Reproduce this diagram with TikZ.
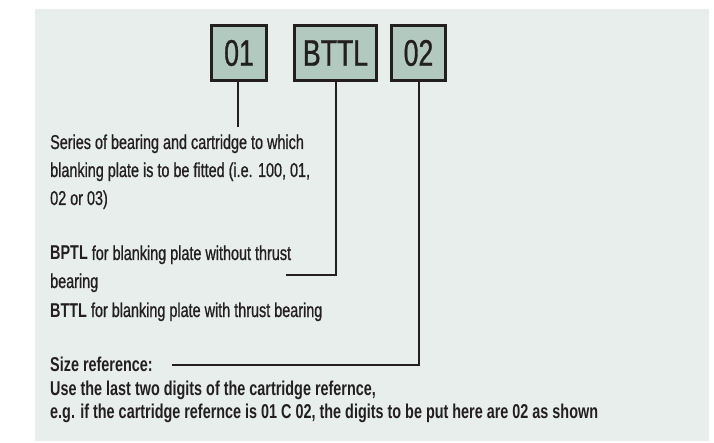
\documentclass[tikz,border=0pt]{standalone}
\usepackage{fontspec}
\setmainfont[FakeStretch=0.72, UprightFeatures={FakeBold=0.8}]{Liberation Sans}
\definecolor{panel}{HTML}{E8EEEC}
\definecolor{boxfill}{HTML}{B2C9BF}
\definecolor{ink}{HTML}{231F20}
\begin{document}
\begin{tikzpicture}[x=1pt,y=-1pt,
  codebox/.style={draw=ink, fill=boxfill, line width=3pt, inner sep=0pt, minimum height=55pt,
    font=\fontsize{37}{37}\selectfont, text=ink},
  lead/.style={draw=ink, line width=2pt},
  body/.style={anchor=base west, inner sep=0pt, text=ink, font=\fontsize{20}{24}\selectfont},
  bodyb/.style={anchor=base west, inner sep=0pt, text=ink, font=\fontsize{20}{24}\selectfont\bfseries}]
\useasboundingbox (0,0) rectangle (714,443);
\fill[white] (0,0) rectangle (714,443);
\fill[panel] (35,9) rectangle (709,441);
% code boxes
\node[codebox, minimum width=55pt] (b1) at (239,53) {01};
\node[codebox, minimum width=82pt] (b2) at (335.5,53) {BTTL};
\node[codebox, minimum width=54pt] (b3) at (418.5,53) {02};
% leader ends
\coordinate (e1) at (238,127);
\coordinate (k2) at (336,275);
\coordinate (e2) at (286,275);
\coordinate (k3) at (419,365);
\coordinate (e3) at (172,365);
\draw[lead] (b1.south -| e1) -- (e1);
\draw[lead] (b2.south -| k2) -- (k2) -- (e2);
\draw[lead] (b3.south -| k3) -- (k3) -- (e3);
% texts
\node[body] (t1) at (50,149) {Series of bearing and cartridge to which};
\node[body] (t2) at (50,177) {blanking plate is to be fitted (i.e. 100, 01,};
\node[body] (t3) at (50,205) {02 or 03)};
\node[body] (t4) at (50,260) {\textbf{BPTL} for blanking plate without thrust};
\node[body] (t5) at (50,288) {bearing};
\node[body] (t6) at (50,317) {\textbf{BTTL} for blanking plate with thrust bearing};
\node[bodyb] (t7) at (50,371) {Size reference:};
\node[bodyb] (t8) at (50,395) {Use the last two digits of the cartridge refernce,};
\node[bodyb] (t9) at (50,418) {e.g. if the cartridge refernce is 01 C 02, the digits to be put here are 02 as shown};
\end{tikzpicture}
\end{document}
